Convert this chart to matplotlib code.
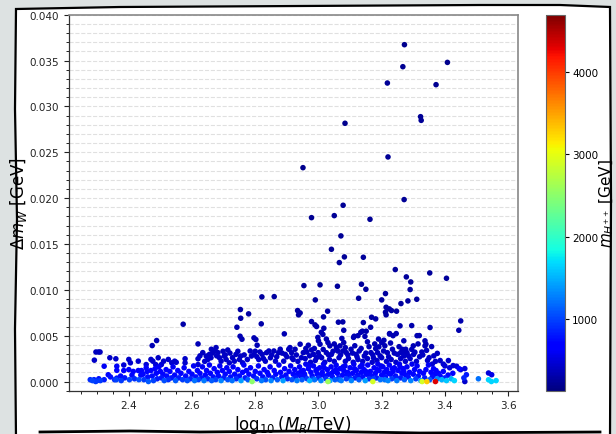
import numpy as np
import matplotlib
matplotlib.use("Agg")
import matplotlib.pyplot as plt
from matplotlib.ticker import MultipleLocator, FormatStrFormatter
from matplotlib.lines import Line2D
from matplotlib.patches import Polygon

# (log10(M_R/TeV), delta m_W [GeV], m_H++ [GeV])
upper_pts = [
    (3.272, 0.03673, 200), (3.267, 0.03433, 210), (3.408, 0.03480, 200), (3.218, 0.03255, 220),
    (3.372, 0.03237, 210), (3.323, 0.02888, 220), (3.325, 0.02848, 220), (3.084, 0.02816, 200),
    (3.220, 0.02449, 230), (2.951, 0.02332, 200), (3.271, 0.01984, 230), (3.078, 0.01922, 220),
    (2.978, 0.01787, 210), (3.050, 0.01809, 220), (3.163, 0.01769, 230), (3.071, 0.01588, 220),
    (3.041, 0.01442, 230), (3.082, 0.01359, 230), (3.066, 0.01297, 240), (3.142, 0.01355, 240),
    (3.243, 0.01221, 250), (3.352, 0.01184, 250), (3.278, 0.01141, 250), (3.405, 0.01126, 240),
    (3.292, 0.01086, 250), (2.954, 0.01046, 240), (3.005, 0.01054, 240), (3.060, 0.01039, 250),
    (3.136, 0.01061, 250), (3.150, 0.01006, 250), (3.290, 0.01003, 260), (3.212, 0.00959, 260),
    (2.821, 0.00923, 260), (2.860, 0.00926, 260), (3.127, 0.00908, 260), (3.200, 0.00890, 270),
    (2.990, 0.00890, 260), (3.311, 0.00897, 270), (3.283, 0.00879, 270), (3.261, 0.00850, 270),
    (2.753, 0.00785, 280), (2.779, 0.00738, 280), (2.934, 0.00774, 280), (2.942, 0.00748, 280),
    (2.937, 0.00727, 280), (3.029, 0.00767, 280), (3.214, 0.00810, 280), (3.224, 0.00792, 280),
    (3.212, 0.00756, 290), (3.231, 0.00774, 290), (3.247, 0.00767, 290), (3.214, 0.00727, 290),
    (3.016, 0.00705, 290), (2.754, 0.00690, 290), (3.168, 0.00701, 290), (3.181, 0.00683, 300),
    (2.572, 0.00625, 300), (2.819, 0.00629, 300), (2.978, 0.00654, 300), (2.989, 0.00618, 300),
    (2.994, 0.00600, 300), (3.063, 0.00647, 300), (3.077, 0.00650, 300), (3.142, 0.00643, 300),
    (3.258, 0.00607, 310), (3.295, 0.00610, 310), (3.450, 0.00661, 310), (3.444, 0.00559, 320),
    (2.742, 0.00592, 310), (3.017, 0.00581, 320), (3.080, 0.00559, 320), (3.139, 0.00549, 320),
    (3.151, 0.00549, 320), (3.165, 0.00592, 320), (3.353, 0.00589, 320), (3.225, 0.00523, 330),
    (3.246, 0.00523, 330), (3.319, 0.00501, 330), (2.892, 0.00520, 330), (2.752, 0.00494, 330),
    (2.758, 0.00461, 340), (2.796, 0.00476, 340), (2.802, 0.00458, 340), (2.488, 0.00447, 340),
    (2.474, 0.00392, 350), (2.619, 0.00410, 350), (3.009, 0.00537, 330), (3.014, 0.00514, 330),
    (3.111, 0.00481, 340), (3.134, 0.00537, 330), (3.147, 0.00492, 340), (3.225, 0.00518, 330),
    (3.236, 0.00500, 340), (3.312, 0.00500, 340), (3.113, 0.00494, 340), (3.125, 0.00500, 340),
]

mid_pts = [
    (2.291, 0.00233, 420), (2.296, 0.00322, 380), (2.304, 0.00322, 380), (2.309, 0.00322, 380),
    (2.340, 0.00259, 400), (2.359, 0.00248, 420), (2.384, 0.00180, 480), (2.400, 0.00241, 420),
    (2.405, 0.00204, 450), (2.430, 0.00222, 440), (2.455, 0.00185, 470), (2.470, 0.00241, 420),
    (2.476, 0.00222, 440), (2.485, 0.00185, 470), (2.493, 0.00259, 410), (2.503, 0.00185, 470),
    (2.510, 0.00222, 440), (2.525, 0.00241, 420), (2.536, 0.00204, 450), (2.545, 0.00222, 440),
    (2.578, 0.00248, 420), (2.578, 0.00204, 450), (2.550, 0.00210, 450), (2.619, 0.00248, 420),
    (2.619, 0.00185, 470), (2.634, 0.00315, 390), (2.645, 0.00278, 400), (2.650, 0.00240, 420),
    (2.655, 0.00296, 400), (2.661, 0.00352, 370), (2.671, 0.00333, 380), (2.676, 0.00370, 370),
    (2.682, 0.00315, 390), (2.687, 0.00259, 410), (2.692, 0.00222, 440), (2.702, 0.00278, 400),
    (2.708, 0.00240, 420), (2.713, 0.00344, 380), (2.718, 0.00204, 450), (2.734, 0.00222, 440),
    (2.739, 0.00296, 400), (2.750, 0.00240, 420), (2.754, 0.00278, 400), (2.760, 0.00204, 450),
    (2.784, 0.00333, 380), (2.788, 0.00278, 400), (2.796, 0.00296, 400), (2.806, 0.00396, 360),
    (2.811, 0.00240, 420), (2.815, 0.00322, 380), (2.822, 0.00296, 400), (2.832, 0.00222, 440),
    (2.836, 0.00315, 390), (2.843, 0.00333, 380), (2.848, 0.00259, 410), (2.859, 0.00333, 380),
    (2.864, 0.00222, 440), (2.874, 0.00315, 390), (2.879, 0.00352, 370), (2.890, 0.00222, 440),
    (2.895, 0.00296, 400), (2.906, 0.00352, 370), (2.916, 0.00259, 410), (2.998, 0.00481, 340),
    (3.000, 0.00444, 350), (3.005, 0.00407, 360), (3.025, 0.00463, 340), (3.030, 0.00425, 350),
    (3.036, 0.00389, 360), (3.074, 0.00470, 340), (3.080, 0.00425, 350), (3.068, 0.00389, 360),
    (3.155, 0.00433, 350), (3.190, 0.00463, 340), (3.200, 0.00425, 350), (3.207, 0.00450, 350),
    (3.181, 0.00359, 370), (3.191, 0.00378, 360), (3.270, 0.00444, 350), (3.265, 0.00352, 370),
    (2.942, 0.00407, 360), (2.968, 0.00396, 360), (2.926, 0.00352, 370), (2.910, 0.00370, 370),
    (2.915, 0.00315, 390), (2.952, 0.00315, 390), (2.963, 0.00322, 380), (2.978, 0.00344, 380),
    (2.984, 0.00296, 400), (2.999, 0.00315, 390), (2.994, 0.00259, 410), (3.025, 0.00315, 390),
    (3.041, 0.00296, 400), (3.057, 0.00370, 370), (3.061, 0.00333, 380), (3.077, 0.00333, 380),
    (3.088, 0.00315, 390), (3.103, 0.00352, 370), (3.119, 0.00296, 400), (3.129, 0.00333, 380),
    (3.145, 0.00278, 400), (3.166, 0.00315, 390), (3.174, 0.00259, 410), (3.187, 0.00315, 390),
    (3.206, 0.00333, 380), (3.218, 0.00315, 390), (3.234, 0.00352, 370), (3.250, 0.00296, 400),
    (3.260, 0.00315, 390), (3.276, 0.00352, 370), (2.920, 0.00240, 420), (2.935, 0.00220, 440),
    (2.958, 0.00250, 420), (2.975, 0.00210, 450), (2.990, 0.00230, 430), (3.010, 0.00260, 410),
    (3.020, 0.00210, 450), (3.035, 0.00240, 420), (3.050, 0.00220, 440), (3.065, 0.00260, 410),
    (3.085, 0.00220, 440), (3.095, 0.00250, 420), (3.110, 0.00210, 450), (3.125, 0.00240, 420),
    (3.140, 0.00220, 440), (3.155, 0.00250, 420), (3.170, 0.00210, 450), (3.185, 0.00230, 430),
    (3.200, 0.00260, 410), (3.215, 0.00220, 440), (3.230, 0.00240, 420), (3.245, 0.00210, 450),
    (3.260, 0.00250, 420), (3.275, 0.00220, 440), (3.337, 0.00444, 350), (3.340, 0.00407, 360),
    (3.337, 0.00389, 360), (3.358, 0.00381, 360), (3.300, 0.00389, 360), (3.275, 0.00300, 390),
    (3.280, 0.00315, 390), (3.270, 0.00278, 400), (3.327, 0.00322, 380), (3.376, 0.00307, 390),
    (3.301, 0.00296, 400), (3.385, 0.00229, 430), (3.411, 0.00229, 430), (3.426, 0.00174, 470),
    (3.437, 0.00167, 480), (3.463, 0.00141, 500), (3.290, 0.00250, 420), (3.310, 0.00220, 440),
    (3.320, 0.00270, 410), (3.345, 0.00230, 430), (3.360, 0.00190, 460), (3.350, 0.00260, 410),
]

mid_extra_pts = [
    (2.625, 0.0028, 400), (2.640, 0.0022, 440), (2.660, 0.0026, 410), (2.665, 0.0031, 390),
    (2.678, 0.0028, 400), (2.698, 0.0033, 380), (2.705, 0.0029, 400), (2.720, 0.0031, 390),
    (2.728, 0.0026, 410), (2.745, 0.0033, 380), (2.765, 0.0029, 400), (2.775, 0.0024, 420),
    (2.800, 0.0033, 380), (2.805, 0.0027, 400), (2.826, 0.0025, 420), (2.852, 0.0029, 400),
    (2.868, 0.0027, 400), (2.885, 0.0031, 390), (2.900, 0.0027, 400), (2.930, 0.0029, 400),
    (2.946, 0.0026, 410), (2.960, 0.0036, 370), (2.972, 0.0028, 400), (2.987, 0.0036, 370),
    (3.003, 0.0028, 400), (3.015, 0.0035, 370), (3.032, 0.0029, 400), (3.046, 0.0033, 380),
    (3.050, 0.0041, 360), (3.070, 0.0029, 400), (3.085, 0.0037, 370), (3.093, 0.0029, 400),
    (3.108, 0.0031, 390), (3.115, 0.0039, 360), (3.122, 0.0027, 400), (3.135, 0.0036, 370),
    (3.150, 0.0031, 390), (3.160, 0.0038, 360), (3.172, 0.0029, 400), (3.178, 0.0041, 360),
    (3.195, 0.0028, 400), (3.210, 0.0039, 360), (3.222, 0.0027, 400), (3.228, 0.0042, 350),
    (3.240, 0.0031, 390), (3.255, 0.0038, 360), (3.268, 0.0031, 390), (3.285, 0.0028, 400),
    (3.295, 0.0035, 370), (3.305, 0.0032, 380), (3.315, 0.0041, 360), (3.330, 0.0029, 400),
    (3.342, 0.0034, 380), (3.365, 0.0028, 400), (3.370, 0.0022, 430), (3.395, 0.0019, 460),
    (3.400, 0.0017, 470), (3.415, 0.0015, 500), (3.450, 0.0013, 520),
]

band_pts = [
    (2.278, 0.0002, 880), (2.285, 0.0001, 1000), (2.290, 0.0002, 820), (2.295, 0.0000, 950),
    (2.300, 0.0001, 880), (2.305, 0.0003, 760), (2.310, 0.0001, 950), (2.322, 0.0002, 820),
    (2.322, 0.00167, 600), (2.335, 0.00074, 700), (2.342, 0.0005, 760), (2.355, 0.0002, 880),
    (2.362, 0.00167, 600), (2.362, 0.00122, 650), (2.362, 0.00037, 800), (2.360, 0.00019, 1000),
    (2.374, 0.0006, 740), (2.376, 0.0001, 950), (2.384, 0.0012, 650), (2.387, 0.0004, 800),
    (2.400, 0.0013, 650), (2.402, 0.0002, 1000), (2.410, 0.0007, 720), (2.414, 0.0011, 700),
    (2.418, 0.0003, 880), (2.430, 0.0012, 650), (2.432, 0.0002, 1050), (2.438, 0.0007, 720),
    (2.440, 0.0012, 650), (2.445, 0.0008, 720), (2.448, 0.0002, 950), (2.455, 0.0015, 620),
    (2.458, 0.0011, 700), (2.460, 0.0005, 760), (2.462, 0.0000, 1100), (2.470, 0.0012, 650),
    (2.474, 0.0006, 740), (2.478, 0.0001, 1000), (2.483, 0.0014, 630), (2.487, 0.0009, 700),
    (2.490, 0.0003, 820), (2.495, 0.0016, 610), (2.500, 0.0011, 700), (2.503, 0.0004, 800),
    (2.508, 0.0008, 720), (2.512, 0.0001, 1050), (2.518, 0.0013, 650), (2.520, 0.0006, 740),
    (2.525, 0.0002, 900), (2.530, 0.0011, 700), (2.535, 0.0004, 800), (2.540, 0.0016, 610),
    (2.545, 0.0007, 720), (2.548, 0.0001, 1100), (2.555, 0.0012, 650), (2.558, 0.0004, 820),
    (2.565, 0.0009, 700), (2.570, 0.0002, 950), (2.575, 0.0015, 620), (2.580, 0.0006, 740),
    (2.585, 0.0001, 1050), (2.590, 0.0011, 700), (2.595, 0.0003, 850), (2.600, 0.0008, 720),
    (2.605, 0.0017, 600), (2.608, 0.0001, 1200), (2.612, 0.0005, 760), (2.617, 0.0012, 650),
    (2.620, 0.0002, 1000), (2.625, 0.0009, 700), (2.630, 0.0004, 800), (2.633, 0.0016, 610),
    (2.638, 0.0001, 1250), (2.642, 0.0007, 720), (2.646, 0.0012, 650), (2.650, 0.0003, 880),
    (2.655, 0.0018, 600), (2.658, 0.0009, 700), (2.662, 0.0001, 1100), (2.667, 0.0005, 760),
    (2.670, 0.0014, 630), (2.675, 0.0002, 1000), (2.680, 0.0010, 700), (2.684, 0.0006, 740),
    (2.688, 0.0017, 600), (2.692, 0.0001, 1300), (2.696, 0.0012, 650), (2.700, 0.0004, 820),
    (2.705, 0.0008, 720), (2.710, 0.0015, 620), (2.713, 0.0002, 1050), (2.718, 0.0011, 700),
    (2.722, 0.0005, 760), (2.727, 0.0001, 1200), (2.730, 0.0016, 610), (2.735, 0.0008, 720),
    (2.740, 0.0003, 880), (2.745, 0.0013, 650), (2.750, 0.0006, 740), (2.755, 0.0001, 1400),
    (2.760, 0.0010, 700), (2.764, 0.0018, 600), (2.768, 0.0004, 820), (2.772, 0.0012, 650),
    (2.777, 0.0002, 1100), (2.780, 0.0008, 720), (2.785, 0.0015, 620), (2.790, 0.0000, 2500),
    (2.795, 0.0006, 740), (2.800, 0.0011, 700), (2.805, 0.0003, 880), (2.810, 0.0017, 600),
    (2.815, 0.0009, 700), (2.820, 0.0001, 1250), (2.824, 0.0005, 760), (2.828, 0.0013, 650),
    (2.833, 0.0002, 1050), (2.838, 0.0010, 700), (2.842, 0.0007, 720), (2.847, 0.0016, 610),
    (2.850, 0.0001, 1300), (2.855, 0.0004, 820), (2.860, 0.0012, 650), (2.865, 0.0008, 720),
    (2.870, 0.0002, 1100), (2.875, 0.0018, 600), (2.880, 0.0010, 700), (2.884, 0.0005, 760),
    (2.888, 0.0001, 1400), (2.893, 0.0014, 630), (2.897, 0.0007, 720), (2.902, 0.0003, 880),
    (2.907, 0.0011, 700), (2.912, 0.0017, 600), (2.916, 0.0002, 1050), (2.920, 0.0008, 720),
    (2.925, 0.0013, 650), (2.928, 0.0004, 820), (2.932, 0.0001, 1250), (2.936, 0.0009, 700),
    (2.940, 0.0016, 610), (2.944, 0.0006, 740), (2.948, 0.0002, 1100), (2.952, 0.0012, 650),
    (2.956, 0.0008, 720), (2.960, 0.0019, 590), (2.964, 0.0003, 950), (2.968, 0.0014, 630),
    (2.972, 0.0001, 1500), (2.976, 0.0010, 700), (2.980, 0.0006, 740), (2.984, 0.0017, 600),
    (2.988, 0.0002, 1200), (2.992, 0.0012, 650), (2.996, 0.0008, 720), (3.000, 0.0004, 850),
    (3.004, 0.0015, 620), (3.008, 0.0001, 1300), (3.012, 0.0010, 700), (3.016, 0.0019, 590),
    (3.020, 0.0006, 740), (3.024, 0.0003, 900), (3.028, 0.0013, 650), (3.032, 0.0008, 720),
    (3.036, 0.0001, 1400), (3.040, 0.0016, 610), (3.044, 0.0005, 760), (3.048, 0.0011, 700),
    (3.052, 0.0002, 1100), (3.056, 0.0018, 600), (3.060, 0.0009, 700), (3.064, 0.0004, 820),
    (3.068, 0.0014, 630), (3.072, 0.0001, 1250), (3.076, 0.0007, 720), (3.080, 0.0012, 650),
    (3.084, 0.0017, 600), (3.088, 0.0003, 950), (3.092, 0.0010, 700), (3.096, 0.0006, 740),
    (3.100, 0.0015, 620), (3.104, 0.0001, 1300), (3.108, 0.0009, 700), (3.112, 0.0019, 590),
    (3.116, 0.0004, 820), (3.120, 0.0012, 650), (3.124, 0.0007, 720), (3.128, 0.0002, 1100),
    (3.132, 0.0016, 610), (3.136, 0.0010, 700), (3.140, 0.0005, 760), (3.144, 0.0013, 650),
    (3.148, 0.0001, 1400), (3.152, 0.0008, 720), (3.156, 0.0018, 600), (3.160, 0.0003, 900),
    (3.164, 0.0011, 700), (3.168, 0.0006, 740), (3.172, 0.0000, 2900), (3.176, 0.0015, 620),
    (3.180, 0.0009, 700), (3.184, 0.0004, 820), (3.188, 0.0019, 590), (3.192, 0.0012, 650),
    (3.196, 0.0002, 1200), (3.200, 0.0007, 720), (3.204, 0.0016, 610), (3.208, 0.0010, 700),
    (3.212, 0.0005, 760), (3.216, 0.0013, 650), (3.220, 0.0001, 1300), (3.224, 0.0018, 600),
    (3.228, 0.0008, 720), (3.232, 0.0003, 950), (3.236, 0.0011, 700), (3.240, 0.0015, 620),
    (3.244, 0.0006, 740), (3.248, 0.0001, 1250), (3.252, 0.0012, 650), (3.256, 0.0019, 590),
    (3.260, 0.0004, 820), (3.264, 0.0009, 700), (3.268, 0.0014, 630), (3.272, 0.0002, 1100),
    (3.276, 0.0007, 720), (2.930, 0.0007, 720), (2.945, 0.0011, 700), (2.958, 0.0005, 760),
    (2.970, 0.0017, 600), (2.982, 0.0003, 950), (2.995, 0.0013, 650), (3.006, 0.0007, 720),
    (3.018, 0.0015, 620), (3.030, 0.0000, 2600), (3.042, 0.0009, 700), (3.055, 0.0013, 650),
    (3.066, 0.0002, 1100), (3.078, 0.0016, 610), (3.090, 0.0008, 720), (3.102, 0.0003, 900),
    (3.114, 0.0014, 630), (3.126, 0.0005, 760), (3.138, 0.0018, 600), (3.150, 0.0011, 700),
    (3.162, 0.0007, 720), (3.174, 0.0003, 950), (3.186, 0.0013, 650), (3.198, 0.0017, 600),
    (3.210, 0.0002, 1200), (3.222, 0.0009, 700), (3.234, 0.0014, 630), (3.246, 0.0004, 820),
    (3.258, 0.0016, 610), (3.270, 0.0011, 700), (3.280, 0.0016, 610), (3.284, 0.0005, 760),
    (3.288, 0.0010, 700), (3.292, 0.0001, 1300), (3.296, 0.0019, 590), (3.300, 0.0008, 720),
    (3.304, 0.0013, 650), (3.308, 0.0003, 950), (3.312, 0.0017, 600), (3.316, 0.0006, 740),
    (3.320, 0.0011, 700), (3.324, 0.0001, 1400), (3.328, 0.0000, 2900), (3.332, 0.0009, 700),
    (3.336, 0.0004, 820), (3.340, 0.0013, 650), (3.343, 0.0000, 3300), (3.348, 0.0018, 600),
    (3.352, 0.0002, 1100), (3.356, 0.0010, 700), (3.360, 0.0005, 760), (3.364, 0.0014, 630),
    (3.368, 0.0008, 720), (3.370, 0.0000, 4300), (3.372, 0.0012, 650), (3.376, 0.0003, 1300),
    (3.380, 0.0009, 700), (3.385, 0.0006, 740), (3.390, 0.0002, 1500), (3.395, 0.0011, 700),
    (3.400, 0.0004, 850), (3.405, 0.0001, 1600), (3.410, 0.0007, 720), (3.420, 0.0003, 1500),
    (3.425, 0.0009, 700), (3.430, 0.0001, 1650), (3.445, 0.0014, 630), (3.460, 0.0004, 850),
    (3.463, 0.0000, 450), (3.468, 0.00074, 800), (3.506, 0.0003, 1200), (3.538, 0.00093, 500),
    (3.548, 0.00074, 550), (3.538, 0.00019, 1650), (3.547, 0.0000, 1650), (3.562, 0.0001, 1650),
]

c_min, c_max = 130, 4690
cbar_ticks = [1000, 2000, 3000, 4000]

pts = np.array(upper_pts + mid_pts + mid_extra_pts + band_pts)
# draw the lighter points last, as in the picture
order = np.argsort(pts[:, 2])
pts = pts[order]

fig = plt.figure(figsize=(6.16, 4.35), dpi=100)
fig.patch.set_facecolor('#dde2e2')

# hand drawn frame around the chart (kept below the axes)
W, H = 616.0, 435.0
frame_px = [(16, 10), (120, 8), (300, 7), (480, 6), (560, 6), (610, 8), (611, 200),
            (610, 440), (16, 440), (15, 330), (17, 220), (15, 110)]
frame = Polygon([(x / W, 1 - y / H) for x, y in frame_px], closed=True,
                transform=fig.transFigure, facecolor='white', edgecolor='black',
                lw=1.6, zorder=-10)
fig.patches.append(frame)
bottom_px = [(40, 433), (130, 432), (200, 433), (300, 432), (420, 434), (600, 433)]
fig.lines.append(Line2D([x / W for x, _ in bottom_px], [1 - y / H for _, y in bottom_px],
                        transform=fig.transFigure, color='black', lw=2, zorder=-9))

ax = fig.add_axes([68.75 / W, 1 - 391.7 / H, (517.6 - 68.75) / W, (391.7 - 15.7) / H])
cax = fig.add_axes([545.7 / W, 1 - 391.7 / H, 19.5 / W, (391.7 - 15.7) / H])

sc = ax.scatter(pts[:, 0], pts[:, 1], c=pts[:, 2], cmap='jet', vmin=c_min, vmax=c_max,
                s=16, edgecolors='none', zorder=3)

ax.set_xlim(2.21, 3.63)
ax.set_ylim(-0.001, 0.040)
ax.xaxis.set_major_locator(MultipleLocator(0.2))
ax.xaxis.set_minor_locator(MultipleLocator(0.05))
ax.yaxis.set_major_locator(MultipleLocator(0.005))
ax.yaxis.set_minor_locator(MultipleLocator(0.001))
ax.yaxis.set_major_formatter(FormatStrFormatter('%.3f'))
ax.xaxis.set_major_formatter(FormatStrFormatter('%.1f'))
ax.tick_params(which='major', direction='out', length=3.5, width=0.8, labelsize=7.5,
               colors='#222222')
ax.tick_params(which='minor', direction='out', length=2, width=0.6)
ax.yaxis.grid(True, which='both', linestyle='--', color='#e0e0e0', lw=0.8)
ax.set_axisbelow(True)
for side in ['top', 'right']:
    ax.spines[side].set_color('#888888')
    ax.spines[side].set_linewidth(1.2)
for side in ['left', 'bottom']:
    ax.spines[side].set_color('#333333')
    ax.spines[side].set_linewidth(0.9)

ax.set_xlabel(r'$\log_{10}(M_R/\mathrm{TeV})$', fontsize=12, labelpad=2)
ax.set_ylabel(r'$\Delta m_W$ [GeV]', fontsize=12)
ax.yaxis.set_label_coords(-0.088, 0.5)

cb = fig.colorbar(sc, cax=cax)
cb.set_ticks(cbar_ticks)
cb.ax.tick_params(labelsize=7.5, length=3, width=0.8, pad=2)
cb.outline.set_edgecolor('#666666')
cb.set_label(r'$m_{H^{++}}$ [GeV]', fontsize=11)
cb.ax.yaxis.set_label_coords(2.64, 0.5)

fig.savefig('out.png', dpi=100, facecolor=fig.get_facecolor())
